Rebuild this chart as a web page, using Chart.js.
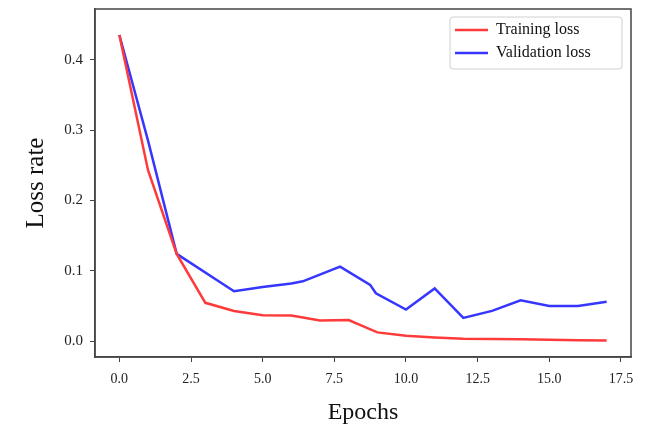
<!DOCTYPE html>
<html>
<head>
<meta charset="utf-8">
<script src="https://cdn.jsdelivr.net/npm/chart.js@4"></script>
<style>
    html, body { margin: 0; padding: 0; background: #fff; }
    #wrap { width: 648px; height: 431px; }
</style>
</head>
<body>
<div id="wrap"><canvas id="grafico"></canvas></div>
<script>
const trainEpochs = [0, 1, 2, 3, 4, 5, 6, 7, 8, 9, 10, 11, 12, 13, 14, 15, 16, 17];
const trainLoss = [0.435, 0.243, 0.124, 0.0545, 0.043, 0.037, 0.0365, 0.0295, 0.030, 0.0125, 0.0076, 0.0053, 0.0034, 0.0031, 0.0026, 0.002, 0.0012, 0.001];

const valEpochs = [0, 1, 2, 4, 5, 6, 6.4, 7.7, 8.75, 8.95, 10, 11, 12, 13, 14, 15, 16, 17];
const valLoss = [0.435, 0.285, 0.124, 0.071, 0.077, 0.082, 0.085, 0.106, 0.080, 0.068, 0.045, 0.075, 0.033, 0.043, 0.058, 0.050, 0.050, 0.056];

const xTicks = [0, 2.5, 5, 7.5, 10, 12.5, 15, 17.5];
const yTicks = [0, 0.1, 0.2, 0.3, 0.4];

const serif = "'Liberation Serif', 'DejaVu Serif', serif";

const toPoints = (xs, ys) => xs.map((x, i) => ({ x: x, y: ys[i] }));

// moldura e legenda desenhadas à mão, como no matplotlib
const molduraLegenda = {
    id: "molduraLegenda",
    afterDraw(chart) {
        const { ctx, chartArea: a } = chart;
        ctx.save();
        ctx.strokeStyle = "#444";
        ctx.lineWidth = 1.5;
        ctx.strokeRect(a.left, a.top, a.right - a.left, a.bottom - a.top);

        const bx = 450, by = 17, bw = 172, bh = 52;
        ctx.fillStyle = "rgba(255,255,255,0.9)";
        ctx.strokeStyle = "#d0d0d0";
        ctx.lineWidth = 1;
        ctx.beginPath();
        ctx.roundRect(bx, by, bw, bh, 3);
        ctx.fill();
        ctx.stroke();

        ctx.font = "16px " + serif;
        ctx.textBaseline = "middle";
        chart.data.datasets.forEach((ds, i) => {
            const y = 30 + i * 23;
            ctx.strokeStyle = ds.borderColor;
            ctx.lineWidth = 2.5;
            ctx.beginPath();
            ctx.moveTo(455, y);
            ctx.lineTo(488, y);
            ctx.stroke();
            ctx.fillStyle = "#111";
            ctx.fillText(ds.label, 496, y);
        });
        ctx.restore();
    },
};

const ctx = document.getElementById("grafico").getContext("2d");
new Chart(ctx, {
    type: "line",
    data: {
        datasets: [
            {
                label: "Training loss",
                data: toPoints(trainEpochs, trainLoss),
                borderColor: "#ff3a3a",
                borderWidth: 2.5,
                pointRadius: 0,
                tension: 0,
            },
            {
                label: "Validation loss",
                data: toPoints(valEpochs, valLoss),
                borderColor: "#3636ff",
                borderWidth: 2.5,
                pointRadius: 0,
                tension: 0,
            },
        ],
    },
    options: {
        responsive: true,
        maintainAspectRatio: false,
        animation: false,
        layout: { padding: { left: 0, right: 17, top: 9, bottom: 0 } },
        plugins: { legend: { display: false }, tooltip: { enabled: false } },
        scales: {
            x: {
                type: "linear",
                min: -0.85,
                max: 17.85,
                afterBuildTicks: (axis) => { axis.ticks = xTicks.map((v) => ({ value: v })); },
                afterFit: (axis) => {
                    axis.height = 74;
                    axis.paddingLeft = 0;
                    axis.paddingRight = 0;
                },
                grid: { drawOnChartArea: false, drawTicks: true, tickLength: 5, color: "#444" },
                border: { display: true, color: "#444", width: 1.5 },
                ticks: {
                    padding: 9,
                    color: "#222",
                    font: { family: serif, size: 14 },
                    maxRotation: 0,
                    callback: (v) => v.toFixed(1),
                },
                title: {
                    display: true,
                    text: "Epochs",
                    color: "#111",
                    font: { family: serif, size: 24 },
                    padding: { top: 0, bottom: 4 },
                },
            },
            y: {
                min: -0.0225,
                max: 0.472,
                afterBuildTicks: (axis) => { axis.ticks = yTicks.map((v) => ({ value: v })); },
                afterFit: (axis) => {
                    axis.width = 95;
                    axis.paddingTop = 0;
                    axis.paddingBottom = 0;
                },
                grid: { drawOnChartArea: false, drawTicks: true, tickLength: 5, color: "#444" },
                border: { display: true, color: "#444", width: 1.5 },
                ticks: {
                    padding: 7,
                    color: "#222",
                    font: { family: serif, size: 15 },
                    callback: (v) => v.toFixed(1),
                },
                title: {
                    display: true,
                    text: "Loss rate",
                    color: "#111",
                    font: { family: serif, size: 25 },
                    padding: { top: 21, bottom: 0 },
                },
            },
        },
    },
    plugins: [molduraLegenda],
});
</script>
</body>
</html>
